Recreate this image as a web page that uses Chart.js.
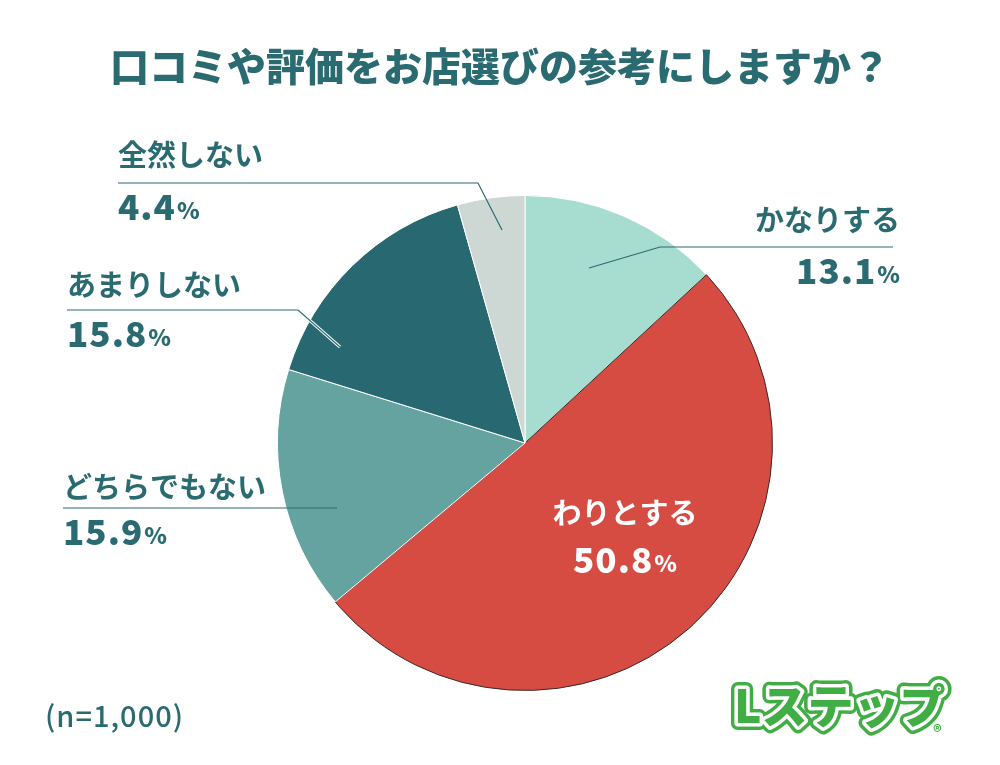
<!DOCTYPE html>
<html>
<head>
<meta charset="utf-8">
<script src="https://cdn.jsdelivr.net/npm/chart.js@4"></script>
<style>
  html,body{margin:0;padding:0;background:#fff;}
  #wrap{width:1000px;height:765px;position:relative;}
</style>
</head>
<body>
<div id="wrap"><canvas id="myChart" width="1000" height="765"></canvas></div>
<script>
const titleText = "口コミや評価をお店選びの参考にしますか？";
const categories = ["かなりする", "わりとする", "どちらでもない", "あまりしない", "全然しない"];
const shares = [13.1, 50.8, 15.9, 15.8, 4.4];
const colors = ["#a7ddd0", "#d64c42", "#64a3a0", "#286870", "#cdd8d5"];
const sampleNote = "(n=1,000)";

const ink = "#2a6b72";
const jp = '"Noto Sans CJK JP"';

// label placement for each slice: text anchor, align, underline and leader
const labelSpots = [
  {x: 900, y: 220, align: "right", line: [[893, 247], [660, 247], [589, 268]]},
  {x: 625, y: 513, align: "center", white: true},
  {x: 63, y: 487, align: "left", line: [[63, 508], [337, 508]]},
  {x: 67, y: 285, align: "left", line: [[67, 310], [298, 310], [340, 347]], halo: true},
  {x: 118, y: 155, align: "left", line: [[118, 183], [478, 183], [502, 230]]}
];

function drawPercent(ctx, value, x, y, align, color){
  const num = value.toFixed(1);
  ctx.save();
  ctx.fillStyle = color;
  ctx.textBaseline = "middle";
  ctx.letterSpacing = "1px";
  ctx.font = "900 35px " + jp;
  const wNum = ctx.measureText(num).width;
  ctx.letterSpacing = "0px";
  ctx.font = "900 23px " + jp;
  const wPct = ctx.measureText("%").width;
  const total = wNum + 1 + wPct;
  let left = x;
  if(align=="right") left = x - total;
  if(align=="center") left = x - total/2;
  ctx.textAlign = "left";
  ctx.letterSpacing = "1px";
  ctx.font = "900 35px " + jp;
  ctx.fillText(num, left, y);
  ctx.letterSpacing = "0px";
  ctx.font = "900 23px " + jp;
  ctx.fillText("%", left + wNum + 1, y + 3);
  ctx.restore();
}

const annotate = {
  id: "annotate",
  afterDraw(chart){
    const ctx = chart.ctx;
    ctx.save();
    // title
    ctx.fillStyle = ink;
    ctx.font = "900 39px " + jp;
    ctx.textAlign = "center";
    ctx.textBaseline = "middle";
    ctx.fillText(titleText, 500, 66);

    // leader lines
    labelSpots.forEach((s)=>{
      if(!s.line) return;
      if(s.halo){
        ctx.beginPath();
        s.line.slice(1).forEach((p,i)=> i==0 ? ctx.moveTo(p[0],p[1]) : ctx.lineTo(p[0],p[1]));
        ctx.strokeStyle = "#ffffff";
        ctx.lineWidth = 3;
        ctx.stroke();
      }
      ctx.beginPath();
      s.line.forEach((p,i)=> i==0 ? ctx.moveTo(p[0],p[1]) : ctx.lineTo(p[0],p[1]));
      ctx.strokeStyle = ink;
      ctx.lineWidth = 1.2;
      ctx.stroke();
    });

    // labels
    categories.forEach((c,i)=>{
      const s = labelSpots[i];
      const col = s.white ? "#ffffff" : ink;
      ctx.fillStyle = col;
      ctx.font = "700 29px " + jp;
      ctx.textAlign = s.align;
      ctx.textBaseline = "middle";
      ctx.fillText(c, s.x, s.y);
      const py = s.white ? s.y + 47 : s.line[0][1] + 24;
      drawPercent(ctx, shares[i], s.x, py, s.align, col);
    });

    // sample size
    ctx.fillStyle = ink;
    ctx.font = "500 29px " + jp;
    ctx.textAlign = "left";
    ctx.letterSpacing = "1px";
    ctx.fillText(sampleNote, 45, 716);
    ctx.letterSpacing = "0px";

    // logo
    ctx.font = "900 46px " + jp;
    ctx.textAlign = "left";
    ctx.lineJoin = "round";
    ctx.strokeStyle = "#41ad45";
    ctx.lineWidth = 14;
    ctx.strokeText("Lステップ", 734, 706);
    ctx.strokeStyle = "#ffffff";
    ctx.lineWidth = 7;
    ctx.strokeText("Lステップ", 734, 706);
    ctx.fillStyle = "#41ad45";
    ctx.fillText("Lステップ", 734, 706);
    ctx.font = "700 17px " + jp;
    ctx.fillText("®", 933, 732);
    ctx.restore();
  }
};

new Chart(document.getElementById("myChart"), {
  type: "pie",
  data: {
    labels: categories,
    datasets: [{
      data: shares,
      backgroundColor: colors,
      borderColor: ["#ffffff", "#3a2a28", "#ffffff", "#ffffff", "#ffffff"],
      borderWidth: 1
    }]
  },
  options: {
    responsive: false,
    animation: false,
    layout: {padding: {left: 277, right: 227, top: 195, bottom: 74}},
    plugins: {
      legend: {display: false},
      tooltip: {enabled: false}
    }
  },
  plugins: [annotate]
});
</script>
</body>
</html>
